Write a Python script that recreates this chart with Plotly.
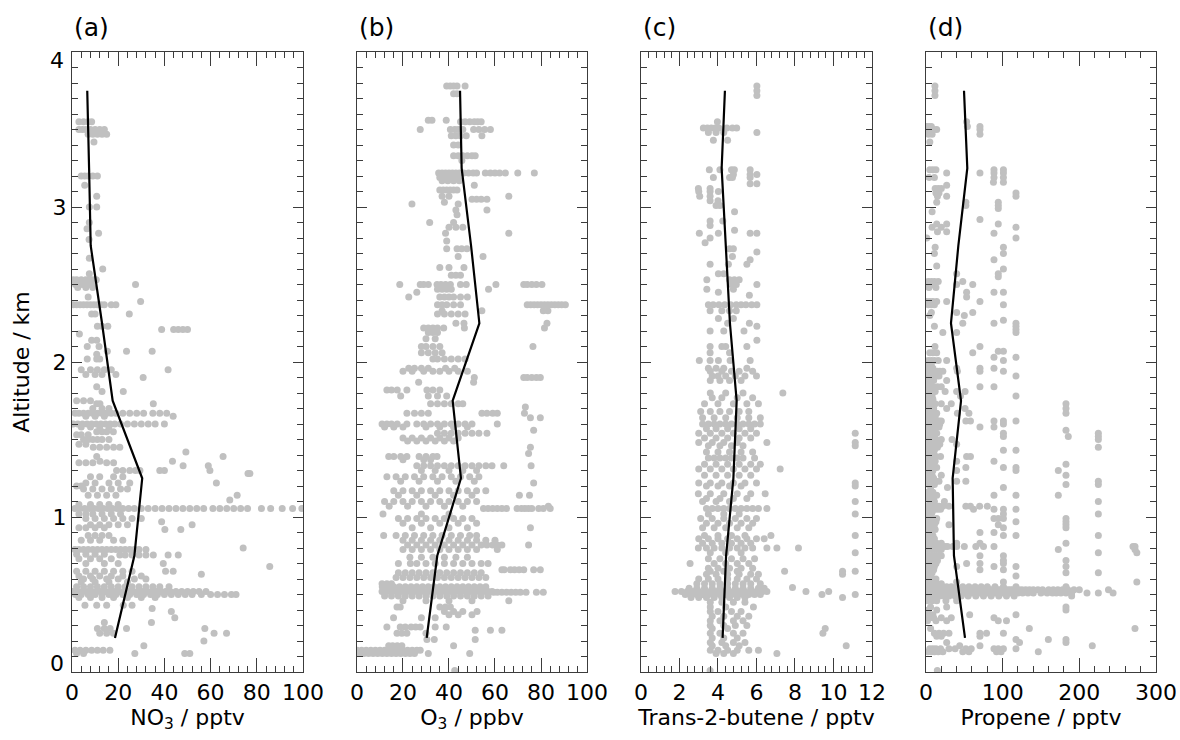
import plotly.graph_objects as go

# ---------------- data ----------------
# Each panel: altitude levels (km) and, per level, the measured values
no3_levels = [3.55, 3.50, 3.47, 3.42, 3.20, 3.14, 3.07, 3.00, 2.90, 2.86, 2.83, 2.79, 2.67, 2.60, 2.57,
              2.53, 2.50, 2.48, 2.42, 2.39, 2.37, 2.31, 2.23, 2.21, 2.18, 2.14, 2.10, 2.07, 2.05, 2.02,
              1.95, 1.92, 1.90, 1.84, 1.81, 1.73, 1.70, 1.67, 1.65, 1.60, 1.58, 1.55, 1.50, 1.45, 1.42,
              1.39, 1.36, 1.33, 1.30, 1.28, 1.26, 1.22, 1.18, 1.14, 1.11, 1.08, 1.055, 0.99, 0.97, 0.95,
              0.92, 0.88, 0.80, 0.79, 0.755, 0.73, 0.70, 0.68, 0.65, 0.63, 0.60, 0.55, 0.52, 0.50, 0.48,
              0.43, 0.41, 0.39, 0.35, 0.32, 0.28, 0.25, 0.20, 0.17, 0.14, 0.12,
              1.75, 1.53, 1.47, 1.35, 1.20, 1.02, 0.93, 0.85, 0.76, 0.62, 0.58]
no3_values = [
    [3, 5, 7, 8.5], [3, 4.5, 6, 8, 10, 12, 14], [7, 9, 11, 13, 15], [9.5], [4, 5.5, 7, 9, 11], [5.5],
    [10.7], [7.5, 10.7], [7.5], [6.5], [11.5], [7.4], [7.5], [13.3], [7.5],
    [0.5, 2, 4, 6, 7.5, 9, 10.5], [1.5, 3.5, 5, 7, 8.5, 27.5], [2.5, 6, 9], [7], [29.7],
    [0.5, 2, 3.5, 5, 6.5, 8, 9.5, 11, 12.5, 14, 17, 19], [8.5, 10, 24.8], [11, 13, 15.5],
    [38.8, 44, 46, 48, 50], [3.2], [8.5, 10.7], [6.6, 11.7], [15.3, 23.6, 34.7], [10.7], [6.6, 10.7, 12],
    [4, 8, 11, 14, 17, 41.6], [6, 10, 13, 19], [30.8], [10.7], [13, 22.2], [10.7, 12.1, 35.2], [9, 13, 16],
    [1.3, 3, 5, 7, 9, 11, 13, 15, 17, 19, 22, 25, 28, 31, 35, 38, 41], [43.8, 6, 10, 14],
    [0.5, 2.5, 4.5, 6.5, 8.5, 10.5, 12.5, 14.5, 16.5, 18.5, 21, 24, 27, 30, 33, 36, 40], [4, 8, 12, 16],
    [10.7, 13, 15, 17.9], [5, 7, 9, 11, 13, 16], [9.2, 12, 15, 18, 20.7], [49.3],
    [10.7, 65.4], [12.1, 43.5], [48.1, 59], [19.3, 22, 25, 27.5, 29.4, 38, 40, 59.7], [76.2, 77],
    [8, 12, 18, 22], [62.5, 6, 10, 16, 20, 25], [5, 9, 13, 17, 21, 24], [7, 11, 15, 19, 71.5], [68.3],
    [3, 8, 12, 16, 20],
    [1.3, 3.5, 5.5, 7.5, 9.5, 11.5, 13.5, 15.5, 17.5, 19.5, 22, 24.5, 27, 30, 33, 36, 39, 42, 45, 48, 51,
     54, 57, 61, 64, 67, 70, 73, 76, 82, 86, 91, 95.5, 99.5],
    [6, 10, 14, 18, 22, 26, 30], [38.8], [8, 12, 16, 20, 24, 52],
    [47.1, 40.2], [7, 10, 13, 16], [74.1], [1.3, 3, 5, 7, 9, 11, 13, 15, 17, 19, 21, 23, 25, 27, 29, 32],
    [20.7, 23, 26, 29, 32, 35.2, 41.6, 46], [3, 8, 12, 17], [39.5, 6, 14, 20], [85.6],
    [2, 6, 10, 14, 18, 22, 26, 40.5, 43.8], [56], [5, 9, 15, 20, 27, 32],
    [2, 5, 8, 11, 14, 17, 20, 23, 26, 29, 32, 35, 38, 42],
    [0.5, 2.5, 4.5, 6.5, 8.5, 10.5, 12.5, 14.5, 16.5, 18.5, 20.5, 22.5, 24.5, 26.5, 28.5, 30.5, 32.5,
     34.5, 36.5, 38.5, 40.5, 42.5, 45, 47.5, 50, 52.5, 55, 58],
    [1.5, 4, 7, 10, 13, 16, 19, 22, 25, 28, 31, 34, 37, 40, 43, 46, 49, 52, 56, 60, 63, 66, 69, 71],
    [3, 8, 13, 18, 24, 30, 36],
    [5.6, 10.7, 15, 22.2, 26], [34.7], [43], [44.5], [34.4, 14], [11, 14, 16.5, 23.6, 57.5],
    [12, 15, 17.9, 61.5, 66.9], [57.1], [31.1], [1.3, 3.5, 6, 8.5, 11, 13.5, 16.4], [2, 5, 27.2, 48.8, 51],
    [2, 5, 8], [2, 4, 7], [3, 6], [3, 6, 9, 15, 18], [2, 4], [3, 6, 9, 13, 17, 21], [3, 6, 10, 14],
    [4, 8, 12, 18, 22], [2, 6, 10, 14], [3, 8, 12, 17, 22, 30], [4, 10, 16, 24]]

o3_levels = [3.78, 3.73, 3.56, 3.55, 3.50, 3.46, 3.40, 3.33, 3.30, 3.22, 3.19, 3.17, 3.14, 3.11, 3.07,
             3.05, 3.03, 3.02, 2.98, 2.95, 2.90, 2.87, 2.83, 2.78, 2.73, 2.68, 2.61, 2.56, 2.50, 2.47,
             2.45, 2.42, 2.37, 2.33, 2.31, 2.25, 2.22, 2.19, 2.15, 2.10, 2.06, 2.02, 1.96, 1.94, 1.90,
             1.87, 1.82, 1.78, 1.73, 1.71, 1.67, 1.64, 1.60, 1.58, 1.56, 1.54, 1.51, 1.49, 1.45, 1.41,
             1.39, 1.37, 1.33, 1.30, 1.26, 1.23, 1.22, 1.17, 1.14, 1.10, 1.07, 1.055, 1.02, 0.99, 0.96,
             0.93, 0.88, 0.85, 0.82, 0.79, 0.74, 0.70, 0.66, 0.64, 0.61, 0.57, 0.55, 0.52, 0.515, 0.49,
             0.46, 0.42, 0.39, 0.37, 0.35, 0.29, 0.27, 0.25, 0.21, 0.17, 0.14, 0.12, 0.01]
o3_values = [
    [39, 40.5, 42, 43.5, 47], [42, 43.5], [31, 32.6, 38.8], [45, 47, 49, 51, 52.5, 54],
    [27.5, 40.6, 42.5, 44, 46, 50.7, 53, 55.5, 58], [41, 43, 45, 47.5, 54.3], [42, 44],
    [42, 44, 46, 48, 50, 51.4], [45.6],
    [35.5, 37, 38.5, 40, 41.5, 43, 44.5, 46.4, 48.5, 50.5, 52, 55.8, 58, 60, 62, 64.5, 69.9, 77.1],
    [36, 38, 40, 42, 44], [37, 39.5, 42, 44.5], [51], [36, 37.5, 39, 40.5, 42, 43.5], [37, 40, 66],
    [50, 52, 54, 56.5], [38], [23.9, 44], [56.5, 43], [43.5], [31.6, 42], [40, 43, 46], [66, 38.5], [39],
    [39, 43.5, 45.5, 47.8], [44, 54.8], [36, 40, 46.5], [41, 43, 45],
    [18.6, 27.5, 29, 31, 34.8, 36.5, 38.5, 40.6, 45, 47.5, 60.4, 72.5, 74, 76, 78, 80.4],
    [35, 37, 39, 41, 57.2], [26], [22.5, 36, 38, 40, 42, 45, 48],
    [35, 37, 39, 42, 45, 74, 75.5, 77, 78.5, 80, 81.5, 83, 84.5, 86, 87.5, 89, 90.6],
    [37, 54.3, 81, 83], [35, 38, 41, 44, 47], [43, 46.5, 82.6], [29, 31, 33, 35, 37.7, 46.7, 81.5],
    [31, 33, 35], [30, 34], [28, 30, 33, 36, 76.5], [28, 31, 34, 37], [33, 35, 38, 41, 44, 47],
    [22.5, 25, 28, 31, 38.5, 42.5], [20, 24, 29, 33, 36, 40, 44, 48], [72.5, 74, 76, 78, 79.7, 51],
    [26.8, 50.7], [13, 15, 17.5, 21.7, 30.4, 33, 36], [19, 31, 35, 39], [32, 35, 38, 41, 44, 46], [73.2],
    [21.7, 25, 28, 31, 54.3, 56.5, 59, 61, 72.8], [75.4, 79.7],
    [10.9, 13, 15, 17.5, 21.7, 26, 29, 32, 35, 38, 41, 44, 47, 50, 61], [12, 16, 20, 30, 36, 42, 48],
    [76.8], [35, 38, 41, 44, 47, 50, 53, 56.5], [20, 24, 28, 32, 36, 40, 44], [22, 26, 30, 34, 38, 42],
    [75.4], [74.6], [13.8, 16, 19, 21.7, 27, 30, 33, 34.8], [20, 29, 32],
    [26, 29, 32, 35, 38, 41, 44, 47, 50, 53, 56, 58.7, 63.8, 75.7], [28, 34, 40, 46, 52],
    [13, 17, 21, 25, 29, 33, 37, 41, 45, 49, 53], [19, 27, 35, 43, 51], [76.8],
    [16, 20, 24, 28, 32, 36, 40, 44, 48, 52, 56], [18, 26, 34, 42, 50, 70.6, 75],
    [12, 16, 20, 24, 28, 32, 36, 40, 44, 48, 52], [14, 22, 30, 38, 46, 83.2],
    [55, 57, 59, 61, 63, 65, 69.6, 71.5, 73, 74.5, 76, 79, 81, 84], [11.3, 28, 40],
    [18, 22, 26, 30, 34, 38, 42, 46, 50], [20, 28, 36, 44, 52], [75.4, 24, 32, 40, 48],
    [11.6, 17, 21, 25, 29, 33, 37, 41, 45, 49, 52], [20, 24, 28, 32, 36, 40, 44, 48, 52, 56, 60],
    [22, 26, 30, 34, 38, 42, 46, 50, 54, 56.5, 59, 61, 63, 74.6], [20, 24, 28, 32, 36, 40, 44, 48, 52, 61],
    [23, 28, 33, 38, 43, 48], [18, 23.2, 26, 30, 34, 38, 42, 46, 50, 54, 57],
    [63, 64, 66.7, 68.5, 70.5, 72.5, 76.8, 79.7], [18, 21, 24, 27, 30, 33, 36, 39, 42, 45, 48, 51, 54],
    [17, 20, 23, 26, 29, 32, 35, 38, 41, 44, 47, 50, 53, 56], [10.9, 13, 15],
    [11, 13.5, 16, 18.5, 21, 23.5, 26, 28.5, 31, 33.5, 36, 38.5, 41, 43.5, 46, 48.5, 51, 53.5, 56],
    [10.9, 13, 15, 17, 19, 21, 23, 25, 27, 29, 31, 33, 35, 37, 39, 41, 43, 45, 47, 49, 51, 53, 55, 57, 58.7],
    [59.4, 61, 63, 65, 67, 69, 71, 73.5, 78, 81],
    [12, 15, 18, 21, 24, 27, 30, 33, 36, 39, 42, 45, 48, 51, 54, 57], [66, 20, 30, 40, 50],
    [17.4, 18.8, 36, 38.5, 40.6], [38, 42, 46, 52.2], [40, 44, 50], [15.9, 28, 34],
    [13, 18.8, 21, 23.5, 25.5, 27.5, 34, 38.8], [51.4, 58, 63], [17.4, 19.5, 21.7, 30], [30.4, 33.6, 51.4],
    [13.8, 15.5, 17.5, 19.5, 42], [0, 2, 4, 6, 8, 10, 12, 14, 16, 18, 20, 22, 24, 26, 27.5],
    [1, 3, 5, 7, 9, 11, 13, 15, 17, 19, 21, 23, 25, 31, 49], [42.5]]

butene_levels = [3.78, 3.75, 3.72, 3.55, 3.51, 3.48, 3.43, 3.24, 3.21, 3.19, 3.15, 3.12, 3.10, 3.07, 3.04,
                 3.01, 2.97, 2.91, 2.88, 2.85, 2.83, 2.80, 2.77, 2.73, 2.71, 2.68, 2.66, 2.63, 2.57, 2.53,
                 2.50, 2.47, 2.45, 2.43, 2.37, 2.33, 2.28, 2.25, 2.23, 2.20, 2.14, 2.10, 2.06, 2.01, 1.96,
                 1.94, 1.91, 1.88, 1.80, 1.77, 1.73, 1.68, 1.64, 1.60, 1.57, 1.54, 1.51, 1.48, 1.46, 1.42,
                 1.38, 1.34, 1.31, 1.27, 1.22, 1.20, 1.15, 1.12, 1.10, 1.055, 1.02, 0.99, 0.96, 0.93, 0.88,
                 0.86, 0.83, 0.80, 0.77, 0.73, 0.70, 0.67, 0.65, 0.63, 0.60, 0.57, 0.545, 0.54, 0.52, 0.50,
                 0.48, 0.45, 0.42, 0.39, 0.36, 0.33, 0.30, 0.28, 0.25, 0.22, 0.19, 0.17, 0.14, 0.12, 0.01]
butene_values = [
    [6.02], [6.02], [6.02], [3.97], [3.24, 3.45, 3.65, 3.85, 4.05, 4.46, 4.75, 4.97], [3.5, 3.9, 4.3, 6.02],
    [3.76, 4.5], [3.55, 4.1, 4.7, 4.85, 5.67], [4.8, 5.67, 6.02], [3.76, 4.6, 4.75, 5.67], [5.67, 6.02],
    [2.98, 3.59], [3.0, 3.59, 4.02], [3.05, 3.59], [3.59, 4.0], [3.9, 4.1], [4.86], [3.59, 4.25], [3.59],
    [4.86], [3.03, 4.02, 5.67, 6.02], [3.59], [3.33], [4.6, 4.8], [6.02], [4.75], [5.67], [3.59, 4.54, 5.5],
    [4.02, 4.3], [3.42, 4.6, 4.85, 5.1], [4.7, 4.95, 6.02], [3.42, 4.8], [4.02], [5.63],
    [3.5, 3.75, 4.05, 4.35, 4.65, 4.95, 5.2, 5.45, 5.75, 6.02], [3.59, 4.2, 4.6, 4.95], [4.02, 4.8],
    [5.63, 4.5], [6.02], [3.59, 4.3, 5.35], [6.02], [3.59, 4.2, 4.4, 5.5], [3.59, 4.6],
    [3.03, 3.59, 4.02, 4.63, 5.67], [3.5, 3.9, 4.3, 5.5], [3.6, 4.2, 4.7, 5.1, 5.8],
    [3.7, 4.0, 4.4, 4.9, 5.4, 6.0], [3.6, 4.1, 4.6, 5.2], [7.37, 3.6, 4.4, 5.3], [3.7, 4.2, 5.0, 5.8],
    [3.3, 4.0, 4.8, 5.5, 6.1], [3.1, 3.6, 4.1, 4.6, 5.1, 5.6], [3.2, 3.8, 4.4, 5.0, 5.6, 6.2],
    [3.2, 3.5, 3.8, 4.1, 4.4, 4.7, 5.0, 5.3, 5.6, 5.9, 6.2], [3.4, 3.9, 4.5, 5.1, 5.7],
    [3.0, 3.6, 4.2, 4.8, 5.4, 6.0, 11.13], [3.3, 3.9, 4.5, 5.1, 5.7], [3.0, 3.7, 4.3, 5.0, 6.54, 11.13],
    [3.5, 4.1, 4.7, 5.3, 11.13], [3.4, 4.0, 4.6, 5.2, 5.8], [3.5, 3.8, 4.1, 4.4, 4.7, 5.0, 5.3, 5.9],
    [3.3, 3.9, 4.5, 5.1, 5.7, 6.2], [3.0, 3.6, 4.2, 4.8, 5.4, 6.0, 7.23], [3.3, 3.9, 4.5, 5.1, 5.7],
    [3.0, 3.6, 4.2, 4.8, 5.4, 6.0, 11.13], [3.4, 4.0, 4.6, 5.2, 11.13], [2.98, 3.6, 4.3, 5.0, 5.7, 6.45],
    [3.4, 4.1, 4.8, 5.5], [11.13, 3.2, 3.9, 4.6], [3.4, 3.7, 4.0, 4.3, 4.6, 4.9, 5.2, 5.5, 5.8, 6.1, 6.54],
    [11.13, 3.5, 4.3, 5.1], [3.1, 3.7, 4.3, 4.9, 5.5, 6.0], [3.4, 4.0, 4.6, 5.2, 5.8],
    [3.2, 3.8, 4.4, 5.0, 5.6], [6.75, 3.3, 4.0, 4.7, 5.4, 11.13], [3.0, 3.5, 4.0, 4.5, 5.0, 5.5, 6.0, 6.4],
    [3.2, 3.7, 4.2, 4.7, 5.2, 5.7], [2.98, 3.4, 3.8, 4.2, 4.6, 5.0, 5.4, 5.8, 6.54, 7.06, 8.18],
    [11.13, 3.6, 4.4, 5.2], [3.5, 4.1, 4.7, 5.3, 5.9], [2.55, 3.8, 4.4, 5.0, 5.6], [3.5, 4.0, 4.6, 5.2, 5.8],
    [7.46, 10.47, 11.13, 3.6, 4.3, 5.0], [10.47, 3.4, 3.9, 4.5, 5.1, 5.7, 6.1],
    [3.0, 3.5, 4.0, 4.5, 5.0, 5.5, 6.0], [2.9, 3.3, 3.7, 4.1, 4.5, 4.9, 5.3, 5.7, 6.2], [7.87],
    [2.5, 2.9, 3.3, 3.7, 4.1, 4.5, 4.9, 5.3, 5.7, 6.1, 6.4],
    [1.77, 2.1, 2.4, 2.7, 3.0, 3.3, 3.6, 3.9, 4.2, 4.5, 4.8, 5.1, 5.4, 5.7, 6.0, 6.3, 6.54, 8.57, 9.75],
    [2.3, 2.6, 2.9, 3.2, 3.5, 3.8, 4.1, 4.4, 4.7, 5.0, 5.3, 5.6, 5.9, 6.2, 9.4, 11.13],
    [2.6, 3.0, 3.4, 3.8, 4.2, 4.6, 5.0, 5.4, 10.47], [3.6, 4.2, 4.8, 5.4], [3.6, 4.4, 5.84],
    [3.6, 4.0, 4.7, 5.2], [3.7, 4.3, 5.0, 5.6], [3.6, 4.1, 4.8, 5.3], [3.6, 4.3, 4.9, 5.5], [9.57, 3.7, 4.5],
    [9.45, 3.6, 4.1, 4.8, 5.3], [3.7, 4.3, 5.0], [3.6, 4.2, 4.8, 5.4], [10.66, 3.7, 4.4, 5.1],
    [3.6, 4.0, 4.5, 5.0, 5.6, 6.1], [3.9, 4.3, 4.8, 7.06], [3.59]]

propene_levels = [3.78, 3.75, 3.72, 3.55, 3.52, 3.50, 3.47, 3.42, 3.24, 3.22, 3.19, 3.16, 3.14, 3.12, 3.09,
                  3.07, 3.03, 3.01, 2.99, 2.97, 2.92, 2.89, 2.87, 2.84, 2.83, 2.80, 2.74, 2.70, 2.66, 2.62,
                  2.60, 2.57, 2.55, 2.52, 2.50, 2.48, 2.45, 2.42, 2.39, 2.37, 2.32, 2.30, 2.27, 2.25, 2.23,
                  2.21, 2.19, 2.10, 2.07, 2.06, 2.03, 2.01, 1.96, 1.94, 1.91, 1.88, 1.84, 1.81, 1.78, 1.73,
                  1.70, 1.67, 1.62, 1.60, 1.58, 1.56, 1.54, 1.52, 1.50, 1.47, 1.45, 1.43, 1.39, 1.36, 1.34,
                  1.32, 1.30, 1.27, 1.23, 1.21, 1.19, 1.14, 1.10, 1.07, 1.05, 1.02, 0.99, 0.97, 0.95, 0.93,
                  0.90, 0.88, 0.83, 0.81, 0.79, 0.77, 0.75, 0.72, 0.70, 0.68, 0.66, 0.64, 0.62, 0.58, 0.55,
                  0.53, 0.51, 0.49, 0.46, 0.42, 0.40, 0.37, 0.35, 0.33, 0.28, 0.25, 0.23, 0.21, 0.19, 0.17,
                  0.15, 0.13, 0.01,
                  1.98, 1.86, 1.76, 1.65, 1.55, 1.41, 1.25, 1.16, 1.12, 1.03, 0.92, 0.86, 0.74, 0.69, 0.60,
                  0.57]
propene_values = [
    [11.7], [11.7], [11.7], [53], [1, 4, 7, 54, 70.4], [2.5, 6, 10, 14, 70.4], [3, 8, 70.4], [5],
    [5, 9, 13, 88.7, 101], [27, 70.4, 88.7, 101], [4, 11, 88.7, 101], [88, 101], [27], [12, 16, 20],
    [13, 17, 117.4], [15, 27, 117.4], [14, 52, 94.3], [52, 94.3], [94.3], [8], [70.4], [94.3, 14, 27],
    [117.4, 8, 20], [15, 27], [88.7], [117.4, 1], [12, 101], [11, 101], [88.7], [14], [101], [40, 94.3],
    [94.3], [3, 7, 11, 16, 48], [5, 9, 40, 61], [4, 13], [53, 88.7, 101], [53], [1, 5, 9, 14, 27, 70.4],
    [3, 7, 11, 101], [7, 40, 61], [5, 50], [101], [48, 88.7, 117.4], [11, 117.4], [117.4], [22, 40, 117.4],
    [11.7, 70.4], [94.3, 101], [5, 9, 14, 61], [88.7, 117.4], [3, 7, 11, 16, 27, 101],
    [1, 5, 9, 40, 70.4, 88.7], [1, 3, 6, 9, 12, 15, 18, 22, 41, 70.4, 101], [2, 5, 8, 11, 14, 17, 117.4],
    [3, 7, 10, 27], [1, 5, 9, 15, 20, 70.4, 88.7], [2, 7, 12, 25, 40, 51], [3, 8, 117.4, 45],
    [1, 4, 8, 12, 20, 33, 182.6], [2, 6, 10, 27, 51, 182.6], [1, 5, 9, 14, 41, 56, 182.6],
    [1, 3, 5, 7, 9, 11, 13, 15, 17, 20, 52, 58, 88.7, 101, 117.4], [2, 4, 6, 8, 10, 12, 14, 16, 18, 101],
    [1, 5, 9, 13, 17, 70.4, 88.7], [182.6], [224.8, 3, 8, 14, 101], [224.8, 185.6, 5, 11, 101],
    [224.8, 2, 7, 13, 20, 34], [1, 6, 12, 18, 40], [3, 9, 15, 224.8], [101, 117.4, 5, 11],
    [1, 5, 9, 13, 19, 53, 58], [2, 7, 12, 40, 88.7], [182.6, 4, 10], [101, 117.4, 1, 6, 14, 52],
    [172.6, 117.4, 3, 9, 40], [182.6, 2, 8, 20], [224.8, 1, 5, 9, 13, 17, 40, 52], [224.8, 182.6, 3, 7, 11],
    [101, 6, 28], [172.6, 117.4, 88.7, 2, 8, 14], [224.8, 5, 11, 24],
    [1, 5, 9, 13, 17, 22, 30, 52, 58, 70, 80], [3, 7, 11, 15, 19, 62, 88.7, 101, 117.4], [224.8, 101],
    [1, 5, 9, 14, 182.6, 88.7, 94.3, 101], [3, 8, 13, 182.6, 117.4], [2, 6, 11, 30, 182.6, 94.3],
    [182.6, 101], [70.4, 88.7], [101, 117.4, 224.8, 4, 9], [2, 6, 10, 14, 20, 40, 70.4, 182.6],
    [1, 4, 7, 10, 13, 16, 19, 22, 25, 28, 35, 40, 50, 65, 75, 88.7, 272.6, 270],
    [2, 5, 8, 11, 14, 17, 20, 172.6, 272.6], [224.8, 275], [2, 6, 10, 14, 20, 70.4, 101],
    [1, 5, 9, 15, 182.6, 101], [3, 8, 13, 53, 70.4, 101], [2, 6, 11, 40, 88.7, 182.6, 117.4],
    [1, 5, 10, 70.4, 101], [182.6, 224.8, 3, 8], [117.4, 2, 6], [275, 101, 1, 4, 7, 40],
    [1, 3, 5, 7, 9, 11, 13, 15, 18, 22, 27, 33, 40, 48, 56, 64, 72, 80, 90, 101, 117.4, 182.6],
    [2, 4, 6, 8, 10, 12, 14, 16, 18, 20, 23, 26, 29, 32, 35, 38, 41, 44, 47, 50, 53, 56, 59, 62, 65, 68,
     71, 74, 77, 80, 83, 86, 89, 92, 95, 98, 101, 104, 107, 110, 113, 117, 121, 125, 130, 135, 140, 146,
     152, 160, 166, 172, 178, 185, 193, 200, 238],
    [1, 3, 5, 7, 9, 11, 13, 15, 17, 19, 22, 25, 28, 31, 34, 37, 40, 43, 46, 49, 52, 55, 58, 61, 64, 67,
     70, 73, 76, 79, 82, 85, 88, 91, 94, 97, 100, 103, 106, 109, 112, 116, 120, 126, 133, 140, 150, 158,
     165, 170, 176, 182.6, 190, 210, 224.8, 244],
    [2, 6, 10, 14, 18, 24, 30, 38, 46, 55, 65, 75, 85, 95, 105, 115, 190], [2, 8, 14, 26, 40],
    [182.6, 6, 27], [182.6, 3, 14], [117.4, 57, 2, 9], [5, 10, 20, 33, 88.7], [2, 13, 27, 94.3, 105],
    [134.8, 272.6, 6], [11, 17, 23, 30, 70.4, 79, 101], [14, 20, 70.4], [117.4, 159.6, 182.6],
    [27, 122, 182.6], [216.9, 44, 70.4], [5, 9, 13, 19, 30, 38, 52, 59, 88.7, 94.3, 101, 117.4],
    [3, 7, 11, 16, 22, 48, 56, 92, 98, 146.5], [14.8],
    [1, 4, 7], [2, 6], [1, 4, 9], [2, 5, 8, 12], [1, 4, 7, 10], [2, 6, 10], [2, 6, 10], [1, 4, 9],
    [2, 6, 10], [1, 4, 8], [1, 4, 8, 12], [1, 4, 7, 11], [4, 8, 12], [1, 5], [2, 5, 9, 13],
    [2, 6, 10, 14, 20]]

# Profile (black line) altitudes and values per panel
profile_alt = [0.22, 0.75, 1.25, 1.75, 2.25, 2.75, 3.25, 3.75]
no3_profile = [18.6, 27.0, 30.4, 17.6, 13.0, 8.1, 7.4, 6.6]
o3_profile = [30.3, 34.9, 45.2, 41.6, 53.2, 49.6, 45.5, 44.8]
butene_profile = [4.24, 4.42, 4.80, 4.97, 4.62, 4.42, 4.19, 4.36]
propene_profile = [50.9, 36.5, 34.8, 45.7, 32.6, 42.2, 53.9, 49.6]

panel_letters = ["(a)", "(b)", "(c)", "(d)"]
x_titles = ["NO<sub>3</sub> / pptv", "O<sub>3</sub> / ppbv", "Trans-2-butene / pptv", "Propene / pptv"]
x_ranges = [[0, 100], [0, 100], [0, 12], [0, 300]]
x_dticks = [20, 20, 2, 100]
x_minor = [4, 4, 0.4, 20]
y_tickvals = [1, 2, 3]
y_ticktext = ["1", "2", "3"]

# ---------------- figure ----------------
FONT = "DejaVu Sans, Liberation Sans, Arial, sans-serif"
FRAME = "#3c3c3c"
GREY = "#c0c0c0"
FS = 22

panels = [(no3_levels, no3_values, no3_profile),
          (o3_levels, o3_values, o3_profile),
          (butene_levels, butene_values, butene_profile),
          (propene_levels, propene_values, propene_profile)]

domains = [[0.0, 0.2131], [0.2629, 0.4751], [0.5249, 0.7380], [0.7878, 1.0]]

fig = go.Figure()
for i, (levels, values, prof) in enumerate(panels):
    xs, ys = [], []
    for alt, vals in zip(levels, values):
        for v in vals:
            xs.append(v)
            ys.append(alt)
    sfx = "" if i == 0 else str(i + 1)
    fig.add_trace(go.Scatter(x=xs, y=ys, mode="markers",
                             marker=dict(color=GREY, size=7, line=dict(width=0)),
                             xaxis="x" + sfx, yaxis="y" + sfx, showlegend=False, hoverinfo="skip"))
    fig.add_trace(go.Scatter(x=prof, y=profile_alt, mode="lines",
                             line=dict(color="black", width=2.2),
                             xaxis="x" + sfx, yaxis="y" + sfx, showlegend=False))

layout = dict(
    width=1180, height=740,
    margin=dict(l=72, r=24, t=52, b=68),
    paper_bgcolor="white", plot_bgcolor="white",
    font=dict(family=FONT, size=FS, color="black"),
    annotations=[],
)

for i in range(4):
    sfx = "" if i == 0 else str(i + 1)
    layout["xaxis" + sfx] = dict(
        domain=domains[i], range=x_ranges[i], anchor="y" + sfx,
        tick0=0, dtick=x_dticks[i], ticks="inside", ticklen=14, tickwidth=1.3, tickcolor=FRAME,
        minor=dict(dtick=x_minor[i], tick0=0, ticks="inside", ticklen=6, tickwidth=1.2, tickcolor=FRAME),
        showline=True, linecolor=FRAME, linewidth=1.4, mirror="allticks",
        showgrid=False, zeroline=False, automargin=False,
        tickfont=dict(size=FS, family=FONT, color="black"),
        title=dict(text=x_titles[i], font=dict(size=FS, family=FONT, color="black"), standoff=2),
    )
    layout["yaxis" + sfx] = dict(
        domain=[0, 1], range=[0, 4], anchor="x" + sfx,
        tickvals=y_tickvals, ticktext=y_ticktext,
        ticks="inside", ticklen=10, tickwidth=1.3, tickcolor=FRAME,
        minor=dict(dtick=0.1, tick0=0, ticks="inside", ticklen=6, tickwidth=1.2, tickcolor=FRAME),
        showline=True, linecolor=FRAME, linewidth=1.4, mirror="allticks",
        showgrid=False, zeroline=False, showticklabels=(i == 0), automargin=False,
        tickfont=dict(size=FS, family=FONT, color="black"),
    )
    layout["annotations"].append(dict(
        text=panel_letters[i], x=domains[i][0], y=1.0403, xref="paper", yref="paper",
        xanchor="left", yanchor="middle", showarrow=False,
        font=dict(size=25, family=FONT, color="black")))

layout["yaxis"]["title"] = dict(text="Altitude / km", font=dict(size=FS, family=FONT, color="black"),
                                standoff=16)
# end labels of altitude axis (drawn inset, as in the original)
layout["annotations"].append(dict(text="0", x=0, y=0, xref="x", yref="y", xanchor="right",
                                  yanchor="middle", xshift=-6, yshift=9, showarrow=False,
                                  font=dict(size=FS, family=FONT, color="black")))
layout["annotations"].append(dict(text="4", x=0, y=4, xref="x", yref="y", xanchor="right",
                                  yanchor="middle", xshift=-6, yshift=-8, showarrow=False,
                                  font=dict(size=FS, family=FONT, color="black")))

fig.update_layout(**layout)
fig.write_html("out.html", config={"displayModeBar": False},
               post_script="document.body.style.margin='0';")
